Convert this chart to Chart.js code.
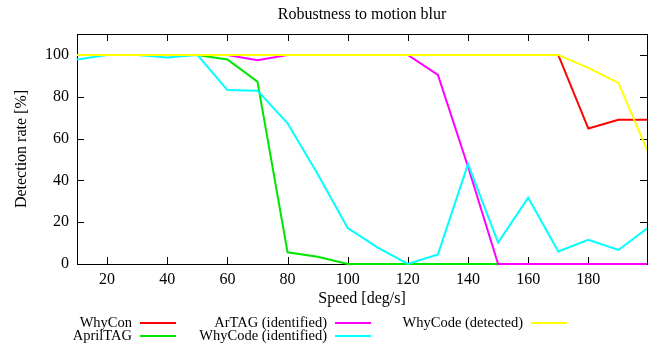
<!DOCTYPE html>
<html>
<head>
<meta charset="utf-8">
<script src="https://cdn.jsdelivr.net/npm/chart.js@4"></script>
<style>
  html, body { margin: 0; padding: 0; background: #fff; }
  #wrap { width: 656px; height: 344px; }
</style>
</head>
<body>
<div id="wrap"><canvas id="c" width="656" height="344"></canvas></div>
<script>
// ── data ─────────────────────────────────────────────
const speeds = [10, 20, 30, 40, 50, 60, 70, 80, 90, 100, 110, 120, 130, 140, 150, 160, 170, 180, 190, 200];

const whyCon       = [100, 100, 100, 100, 100, 100, 100, 100, 100, 100, 100, 100, 100, 100, 100, 100, 100, 64.8, 69, 69];
const aprilTag     = [100, 100, 100, 100, 100, 97.8, 87.2, 5.6, 3.5, 0, 0, 0, 0, 0, 0, 0, 0, 0, 0, 0];
const arTag        = [100, 100, 100, 100, 100, 100, 97.5, 100, 100, 100, 100, 100, 90.4, 46.5, 0, 0, 0, 0, 0, 0];
const whyCodeIdent = [97.8, 100, 100, 98.8, 100, 83.2, 82.9, 67.3, 43, 17.2, 7.8, 0, 4.6, 47.8, 10.2, 31.7, 6, 11.6, 6.7, 17.5];
const whyCodeDet   = [100, 100, 100, 100, 100, 100, 100, 100, 100, 100, 100, 100, 100, 100, 100, 100, 100, 93.8, 86.6, 53];

const xTicks = [20, 40, 60, 80, 100, 120, 140, 160, 180];
const yTicks = [0, 20, 40, 60, 80, 100];

const SERIF = "'Liberation Serif', 'DejaVu Serif', serif";

const series = [
    { label: "WhyCon",               data: whyCon,       color: "#ff0000" },
    { label: "AprilTAG",             data: aprilTag,     color: "#00e600" },
    { label: "ArTAG (identified)",   data: arTag,        color: "#ff00ff" },
    { label: "WhyCode (identified)", data: whyCodeIdent, color: "#00ffff" },
    { label: "WhyCode (detected)",   data: whyCodeDet,   color: "#ffff00" },
];

// legend slots: gnuplot-style, column-major, 2 rows
const legendSlots = [
    { textRight: 132, y: 323 }, { textRight: 132, y: 336 },
    { textRight: 327, y: 323 }, { textRight: 327, y: 336 },
    { textRight: 523, y: 323 },
];

// ── box, inward ticks and legend ─────────────────────
const framePlugin = {
    id: "frame",
    beforeDatasetsDraw(chart) {
        const { ctx, chartArea: a, scales: { x, y } } = chart;
        ctx.save();
        ctx.strokeStyle = "#000";
        ctx.lineWidth = 1;
        ctx.beginPath();
        xTicks.forEach(v => {
            const px = Math.round(x.getPixelForValue(v)) + 0.5;
            ctx.moveTo(px, a.bottom); ctx.lineTo(px, a.bottom - 7);
            ctx.moveTo(px, a.top);    ctx.lineTo(px, a.top + 7);
        });
        yTicks.forEach(v => {
            const py = Math.round(y.getPixelForValue(v)) + 0.5;
            ctx.moveTo(a.left, py);  ctx.lineTo(a.left + 7, py);
            ctx.moveTo(a.right, py); ctx.lineTo(a.right - 7, py);
        });
        ctx.stroke();
        ctx.strokeRect(Math.round(a.left) + 0.5, Math.round(a.top) + 0.5,
                       Math.round(a.right - a.left), Math.round(a.bottom - a.top));
        ctx.restore();
    },
    afterDraw(chart) {
        const ctx = chart.ctx;
        ctx.save();
        ctx.font = "14.5px " + SERIF;
        ctx.textAlign = "right";
        ctx.textBaseline = "middle";
        ctx.lineWidth = 2;
        chart.data.datasets.forEach((ds, i) => {
            const s = legendSlots[i];
            ctx.fillStyle = "#000";
            ctx.fillText(ds.label, s.textRight, s.y);
            ctx.strokeStyle = ds.borderColor;
            ctx.beginPath();
            ctx.moveTo(s.textRight + 8, s.y);
            ctx.lineTo(s.textRight + 44, s.y);
            ctx.stroke();
        });
        ctx.restore();
    },
};

new Chart(document.getElementById("c"), {
    type: "line",
    data: {
        datasets: series.map((s, i) => ({
            label: s.label,
            data: speeds.map((v, k) => ({ x: v, y: s.data[k] })),
            borderColor: s.color,
            backgroundColor: s.color,
            borderWidth: 2,
            pointRadius: 0,
            tension: 0,
            fill: false,
            order: series.length - i,   // later series painted on top, like gnuplot
            clip: { left: 0, right: 0, top: 4, bottom: 4 },
        })),
    },
    options: {
        responsive: false,
        animation: false,
        events: [],
        layout: { padding: { left: 0, right: 9, top: 0, bottom: 35 } },
        plugins: {
            legend: { display: false },
            tooltip: { enabled: false },
            title: {
                display: true,
                text: "Robustness to motion blur",
                fullSize: false,
                color: "#000",
                font: { family: SERIF, size: 16, weight: "normal", lineHeight: 1.2 },
                padding: { top: 5, bottom: 9.8 },
            },
        },
        scales: {
            x: {
                type: "linear",
                min: 10,
                max: 199.5,
                afterBuildTicks: s => { s.ticks = xTicks.map(v => ({ value: v })); },
                afterFit: s => { s.height = 45; },
                grid: { display: false, drawTicks: false },
                border: { display: false },
                ticks: { color: "#000", padding: 6, maxRotation: 0, autoSkip: false,
                         font: { family: SERIF, size: 16 } },
                title: { display: true, text: "Speed [deg/s]", color: "#000",
                         font: { family: SERIF, size: 16, lineHeight: 1.2 },
                         padding: { top: 0, bottom: 1 } },
            },
            y: {
                min: 0,
                max: 110,
                afterBuildTicks: s => { s.ticks = yTicks.map(v => ({ value: v })); },
                afterFit: s => { s.width = 77; },
                grid: { display: false, drawTicks: false },
                border: { display: false },
                ticks: { color: "#000", padding: 8, autoSkip: false,
                         font: { family: SERIF, size: 16 } },
                title: { display: true, text: "Detection rate [%]", color: "#000",
                         font: { family: SERIF, size: 16, lineHeight: 1.2 },
                         padding: { top: 12, bottom: 0 } },
            },
        },
    },
    plugins: [framePlugin],
});
</script>
</body>
</html>
